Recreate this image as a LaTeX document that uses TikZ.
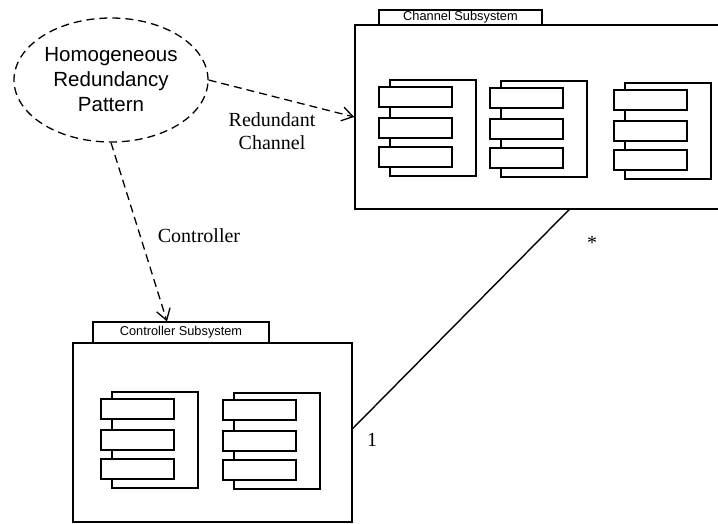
\documentclass[tikz,border=0pt]{standalone}
\usepackage{fontspec}
\setmainfont{Liberation Serif}
\setsansfont{Liberation Sans}
\usetikzlibrary{shapes.geometric,arrows.meta}

\begin{document}
\begin{tikzpicture}[x=1pt,y=1pt]
\tikzstyle{every node}+=[inner sep=0pt]
\tikzstyle{pkg}=[draw, rectangle, line width=1.5pt]
\tikzstyle{pkgtab}=[draw, rectangle, line width=1.2pt, font=\sffamily\fontsize{12.8}{14}\selectfont]
\tikzstyle{dep}=[line width=1.3pt, dash pattern=on 8pt off 5pt, -{Straight Barb[length=11pt,width=14pt]}]
\tikzstyle{lbl}=[align=center, font=\fontsize{20}{23}\selectfont]
\clip (0,0) rectangle (718,-523);
% the pattern
\node [ellipse, draw, line width=1.3pt, dash pattern=on 8pt off 5pt, minimum width=194pt, minimum height=124pt, align=center, font=\sffamily\fontsize{20.5}{25}\selectfont] (hrp) at (111,-80) {Homogeneous\\Redundancy\\Pattern};
% packages
\node [pkg, minimum width=372pt, minimum height=184pt] (chan) at (541,-117) {};
\node [pkgtab, minimum width=163pt, minimum height=15pt] (chantab) at (460.5,-17.5) {Channel Subsystem};
\node [pkg, minimum width=279pt, minimum height=179pt] (ctrl) at (212.5,-432.5) {};
\node [pkgtab, minimum width=176pt, minimum height=21pt] (ctrltab) at (181,-332.5) {Controller Subsystem};
% components
\foreach \bx/\by in {390/80, 501/81, 625/83, 112/392, 234/393} {
  \draw [line width=1.4pt] (\bx,-\by) rectangle ++(86,-96);
  \foreach \dy in {7,38,67}
    \draw [line width=1.6pt, fill=white] (\bx-11,-\by-\dy) rectangle ++(73,-20);
}
% roles
\draw [dep] (hrp.east) -- (chan.west);
\draw [dep] (hrp.south) -- ([xshift=-14pt]ctrltab.north);
\node [lbl] (redch) at (272,-131) {Redundant\\Channel};
\node [lbl] (ctrlrole) at (199,-236) {Controller};
% association
\draw [line width=1.4pt] ([yshift=4pt]ctrl.east) -- ([xshift=28pt]chan.south);
\node [lbl] (one) at (372,-440) {1};
\node [font=\fontsize{20}{22}\selectfont] (many) at (592,-243) {*};
\end{tikzpicture}
\end{document}
